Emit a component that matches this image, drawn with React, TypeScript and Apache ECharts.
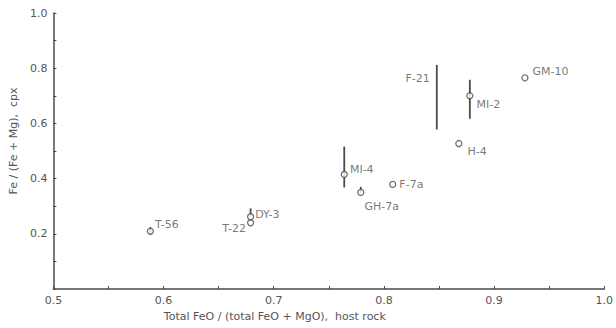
import React, { useEffect, useRef } from "react";
import * as echarts from "echarts";

// Samples: host-rock ratio (x) and cpx ratio (y)
const sampleNames = ["T-56", "T-22", "DY-3", "MI-4", "GH-7a", "F-7a", "F-21", "H-4", "MI-2", "GM-10"];
const hostRatio = [0.588, 0.679, 0.679, 0.764, 0.779, 0.808, 0.848, 0.868, 0.878, 0.928];
const cpxRatio = [0.209, 0.24, 0.262, 0.415, 0.35, 0.379, 0.695, 0.527, 0.7, 0.765];

// Ranges (vertical bars) of the cpx ratio
const rangeNames = ["T-56", "DY-3", "GH-7a", "MI-4", "F-21", "MI-2"];
const rangeLow = [0.2, 0.262, 0.35, 0.368, 0.578, 0.617];
const rangeHigh = [0.224, 0.292, 0.37, 0.516, 0.812, 0.758];

// Samples drawn as a range only (no marker)
const rangeOnly = ["F-21"];

const xTicks = [0.5, 0.6, 0.7, 0.8, 0.9, 1.0];
const yTicks = [0.2, 0.4, 0.6, 0.8, 1.0];

const INK = "#4a4a4a";
const TEXT = "#555555";
const FONT = "DejaVu Sans";

const labelPlacement: Record<string, { position: string; offset: number[] }> = {
  "T-56": { position: "right", offset: [-4, -7] },
  "T-22": { position: "left", offset: [4, 6] },
  "DY-3": { position: "right", offset: [-4, -2] },
  "MI-4": { position: "right", offset: [-3, -5] },
  "GH-7a": { position: "right", offset: [-5, 14] },
  "F-7a": { position: "right", offset: [-2, 0] },
  "F-21": { position: "left", offset: [-2, -19] },
  "H-4": { position: "right", offset: [0, 8] },
  "MI-2": { position: "right", offset: [-2, 9] },
  "GM-10": { position: "right", offset: [-1, -6] },
};

export default function App() {
  const ref = useRef<HTMLDivElement>(null);

  useEffect(() => {
    if (!ref.current) return;
    const chart = echarts.init(ref.current, null, { renderer: "svg" });

    const scatterData = sampleNames.map((n, i) => ({
      name: n,
      value: [hostRatio[i], cpxRatio[i]],
      symbolSize: rangeOnly.includes(n) ? 0 : 6,
      label: labelPlacement[n],
    }));

    const rangeData = rangeNames.map((n, i) => {
      const idx = sampleNames.indexOf(n);
      return { name: n, value: [hostRatio[idx], rangeLow[i], rangeHigh[i]] };
    });

    const fmt = (v: number) => v.toFixed(1);

    chart.setOption({
      animation: false,
      backgroundColor: "#ffffff",
      grid: { left: 50, right: 11, top: 13, bottom: 39, containLabel: false },
      xAxis: {
        type: "value",
        min: xTicks[0],
        max: xTicks[xTicks.length - 1],
        interval: 0.1,
        name: "Total FeO / (total FeO + MgO),  host rock",
        nameLocation: "middle",
        nameGap: 22,
        nameTextStyle: { color: TEXT, fontFamily: FONT, fontSize: 11, padding: [0, 108, 0, 0] },
        axisLine: { show: true, onZero: false, lineStyle: { color: INK, width: 1.5 } },
        axisTick: { show: true, inside: true, length: 3, lineStyle: { color: INK } },
        minorTick: { show: true, splitNumber: 2, length: 3, lineStyle: { color: INK } },
        splitLine: { show: false },
        axisLabel: { color: TEXT, fontFamily: FONT, fontSize: 11, margin: 6, formatter: fmt },
      },
      yAxis: {
        type: "value",
        min: 0,
        max: yTicks[yTicks.length - 1],
        interval: 0.2,
        name: "Fe / (Fe + Mg),  cpx",
        nameLocation: "middle",
        nameGap: 26,
        nameTextStyle: { color: TEXT, fontFamily: FONT, fontSize: 11, padding: [0, 0, 0, 20] },
        axisLine: { show: true, onZero: false, lineStyle: { color: INK, width: 1.5 } },
        axisTick: { show: true, inside: true, length: 3, lineStyle: { color: INK } },
        minorTick: { show: true, splitNumber: 2, length: 3, lineStyle: { color: INK } },
        splitLine: { show: false },
        axisLabel: { color: TEXT, fontFamily: FONT, fontSize: 11, margin: 6, showMinLabel: false, formatter: fmt },
      },
      series: [
        {
          type: "custom",
          z: 2,
          data: rangeData,
          encode: { x: 0, y: [1, 2] },
          renderItem: (_params: any, api: any) => {
            const x = api.value(0);
            const p1 = api.coord([x, api.value(1)]);
            const p2 = api.coord([x, api.value(2)]);
            return {
              type: "line",
              shape: { x1: p1[0], y1: p1[1], x2: p2[0], y2: p2[1] },
              style: { stroke: INK, lineWidth: 1.8 },
            };
          },
        },
        {
          type: "scatter",
          z: 3,
          symbol: "circle",
          data: scatterData,
          itemStyle: { color: "#ffffff", borderColor: INK, borderWidth: 1.3 },
          label: {
            show: true,
            formatter: "{b}",
            color: TEXT,
            fontFamily: FONT,
            fontSize: 11,
            distance: 5,
          },
          emphasis: { disabled: true },
        },
      ],
    });

    return () => chart.dispose();
  }, []);

  return (
    <div
      ref={ref}
      style={{ position: "fixed", left: 0, top: 0, width: 616, height: 328, background: "#fff" }}
    />
  );
}
